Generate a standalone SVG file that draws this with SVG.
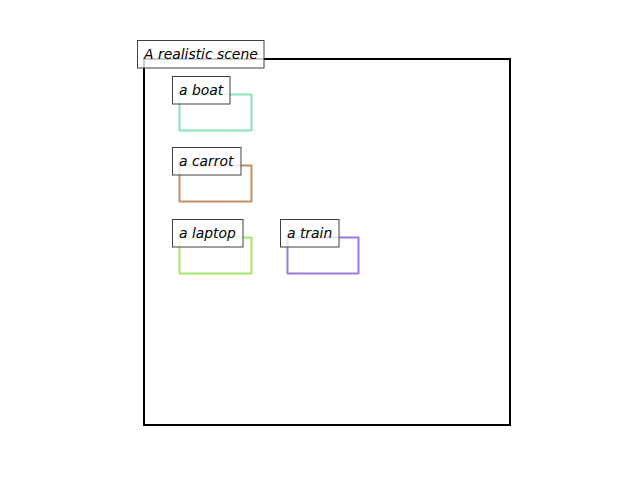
<svg xmlns="http://www.w3.org/2000/svg" width="640" height="480" viewBox="0 0 640 480">
<style>
.obj{fill:none;stroke-width:2;stroke-linejoin:round}
.lbl{fill:#ffffff;fill-opacity:0.8;stroke:#404040;stroke-width:1}
.t{font-family:"DejaVu Sans",sans-serif;font-style:oblique;font-size:13.9px;fill:#000}
</style>
<rect width="640" height="480" fill="#ffffff"/>
<g id="scene">
<rect x="144" y="59" width="366" height="366" fill="none" stroke="#000" stroke-width="2"/>
</g>
<g id="boat">
<rect class="obj" x="179.5" y="94.5" width="72" height="36" stroke="#86e3b9"/>
<rect class="lbl" x="172.5" y="76.5" width="57.5" height="27.5"/>
<text class="t" x="179" y="95">a boat</text>
</g>
<g id="carrot">
<rect class="obj" x="179.5" y="165.5" width="72" height="36" stroke="#c48d66"/>
<rect class="lbl" x="172.5" y="147.5" width="68.5" height="27.5"/>
<text class="t" x="179" y="166">a carrot</text>
</g>
<g id="laptop">
<rect class="obj" x="179.5" y="237.5" width="72" height="36" stroke="#a2e86c"/>
<rect class="lbl" x="172.5" y="219.5" width="70.5" height="27.5"/>
<text class="t" x="179" y="238">a laptop</text>
</g>
<g id="train">
<rect class="obj" x="287.5" y="237.5" width="71" height="36" stroke="#9b78e0"/>
<rect class="lbl" x="280.5" y="219.5" width="58.5" height="27.5"/>
<text class="t" x="287" y="238">a train</text>
</g>
<g id="title">
<rect class="lbl" x="137.5" y="40.5" width="126.5" height="27.5"/>
<text class="t" x="144" y="59">A realistic scene</text>
</g>
<g id="connectors"></g>
</svg>
